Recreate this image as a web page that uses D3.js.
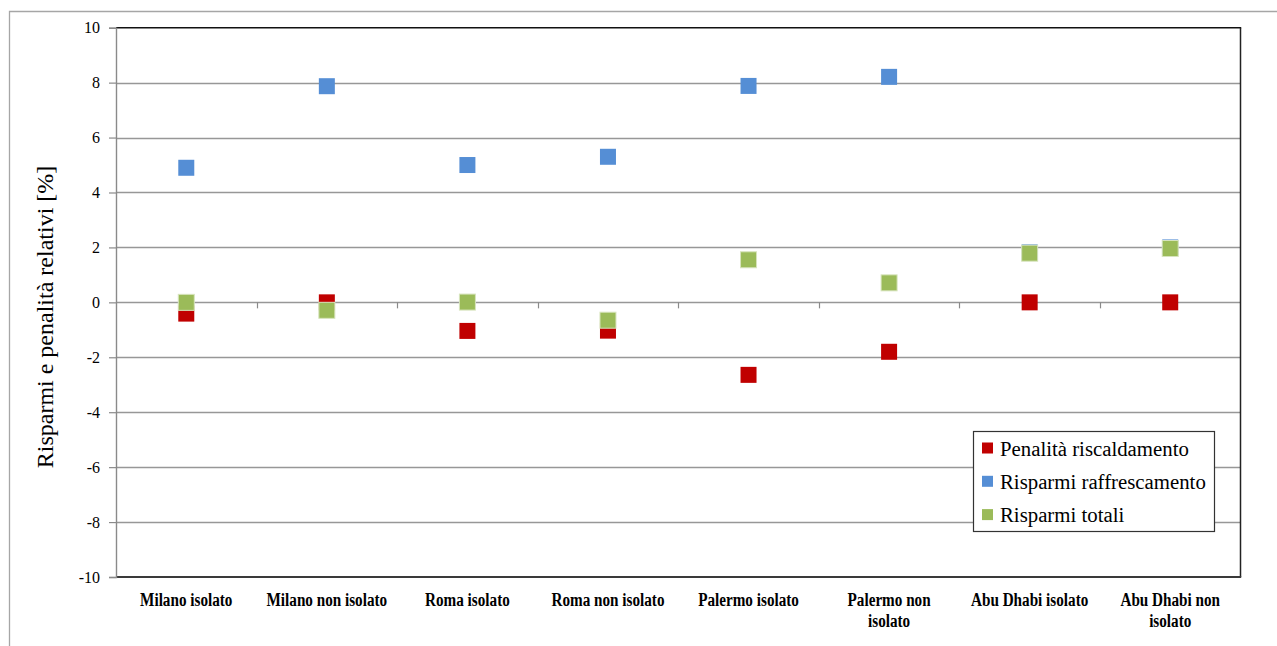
<!DOCTYPE html>
<html>
<head>
<meta charset="utf-8">
<script src="https://cdn.jsdelivr.net/npm/d3@7"></script>
<style>
  html, body { margin: 0; padding: 0; background: #fff; }
  svg { display: block; }
  svg text { font-family: "Liberation Serif", serif !important; }
</style>
</head>
<body>
<svg id="chart" width="1277" height="646"></svg>
<script>
// Categorie (casi studio) e serie in percentuale
const categories = [
  "Milano isolato", "Milano non isolato", "Roma isolato", "Roma non isolato",
  "Palermo isolato", "Palermo non isolato", "Abu Dhabi isolato", "Abu Dhabi non isolato"
];
// Etichette dell'asse x suddivise su righe
const categoryLines = [
  ["Milano isolato"], ["Milano non isolato"], ["Roma isolato"], ["Roma non isolato"],
  ["Palermo isolato"], ["Palermo non", "isolato"], ["Abu Dhabi isolato"], ["Abu Dhabi non", "isolato"]
];
const penalitaRiscaldamento   = [-0.41, 0.00, -1.04, -1.03, -2.64, -1.80, 0.00, 0.00];
const risparmiRaffrescamento  = [4.90, 7.87, 5.00, 5.30, 7.88, 8.21, 1.82, 2.00];
const risparmiTotali          = [0.00, -0.29, 0.01, -0.65, 1.55, 0.71, 1.79, 1.96];
const yTicks = [-10, -8, -6, -4, -2, 0, 2, 4, 6, 8, 10];

const seriesNames = ["Penalità riscaldamento", "Risparmi raffrescamento", "Risparmi totali"];
const seriesValues = [penalitaRiscaldamento, risparmiRaffrescamento, risparmiTotali];
const seriesColors = ["#C00000", "#558ED5", "#9BBB59"];
const seriesStroke = ["none", "none", "#d7e4bd"];

const FONT = "'Liberation Serif', serif";
const svg = d3.select("#chart");
const plot = { left: 116, right: 1240.5, top: 27.7, bottom: 577 };

const x = d3.scaleBand().domain(categories).range([plot.left, plot.right]);
const y = d3.scaleLinear().domain([-10, 10]).range([plot.bottom, plot.top]);

// cornice esterna
svg.append("path")
  .attr("d", `M9.5,${646} V11.5 H1277`)
  .attr("fill", "none").attr("stroke", "#a6a6a6").attr("stroke-width", 1.3);

// griglia orizzontale
svg.append("g")
  .selectAll("line")
  .data(yTicks.filter(t => t !== -10 && t !== 10))
  .join("line")
  .attr("x1", plot.left).attr("x2", plot.right)
  .attr("y1", d => Math.round(y(d)) + 0.5).attr("y2", d => Math.round(y(d)) + 0.5)
  .attr("stroke", "#979797").attr("stroke-width", 1.4);

// tacche sull'asse dello zero tra le categorie
const bounds = d3.range(1, categories.length).map(i => plot.left + i * x.step());
svg.append("g")
  .selectAll("line")
  .data(bounds)
  .join("line")
  .attr("x1", d => Math.round(d) + 0.5).attr("x2", d => Math.round(d) + 0.5)
  .attr("y1", y(0)).attr("y2", y(0) + 6)
  .attr("stroke", "#8a8a8a").attr("stroke-width", 1.2);

// bordo dell'area del grafico
svg.append("line").attr("x1", plot.left).attr("x2", plot.right + 0.7)
  .attr("y1", plot.top).attr("y2", plot.top).attr("stroke", "#111").attr("stroke-width", 1.6);
svg.append("line").attr("x1", plot.right).attr("x2", plot.right)
  .attr("y1", plot.top).attr("y2", plot.bottom).attr("stroke", "#222").attr("stroke-width", 1.5);
svg.append("line").attr("x1", plot.left).attr("x2", plot.right + 0.7)
  .attr("y1", plot.bottom).attr("y2", plot.bottom).attr("stroke", "#3a3a3a").attr("stroke-width", 1.8);

// asse y
const yAxis = svg.append("g")
  .attr("transform", `translate(${plot.left},0)`)
  .call(d3.axisLeft(y).tickValues(yTicks).tickSize(7).tickPadding(9).tickFormat(d => String(d)));
yAxis.attr("font-family", FONT);
yAxis.select(".domain").attr("stroke", "#8a8a8a").attr("stroke-width", 1.4);
yAxis.selectAll(".tick line").attr("stroke", "#8a8a8a").attr("stroke-width", 1.2);
yAxis.selectAll(".tick text")
  .attr("font-family", FONT)
  .attr("font-size", 16).attr("fill", "#000");

// titolo asse y
svg.append("text")
  .attr("transform", `translate(53,317) rotate(-90)`)
  .attr("text-anchor", "middle")
  .attr("font-family", FONT)
  .attr("font-size", 24)
  .attr("fill", "#000")
  .text("Risparmi e penalità relativi [%]");

// etichette asse x (carattere condensato)
const xLab = svg.append("g").attr("font-family", FONT);
categories.forEach((c, i) => {
  const cx = x(c) + x.bandwidth() / 2;
  const t = xLab.append("text")
    .attr("transform", `translate(${cx},606) scale(0.8,1)`)
    .attr("text-anchor", "middle")
    .attr("font-family", FONT)
    .attr("font-size", 19)
    .attr("font-weight", "bold")
    .attr("fill", "#000");
  categoryLines[i].forEach((line, j) => {
    t.append("tspan").attr("x", 0).attr("dy", j === 0 ? 0 : 21).text(line);
  });
});

// marcatori
const size = 16;
seriesValues.forEach((vals, s) => {
  svg.append("g")
    .selectAll("rect")
    .data(vals.map((v, i) => ({ cat: categories[i], v })))
    .join("rect")
    .attr("x", d => x(d.cat) + x.bandwidth() / 2 - size / 2)
    .attr("y", d => y(d.v) - size / 2)
    .attr("width", size).attr("height", size)
    .attr("fill", seriesColors[s])
    .attr("stroke", seriesStroke[s])
    .attr("stroke-width", seriesStroke[s] === "none" ? 0 : 1);
});

// legenda
const leg = svg.append("g").attr("font-family", FONT);
leg.append("rect")
  .attr("x", 973.5).attr("y", 431.5).attr("width", 241).attr("height", 100)
  .attr("fill", "#fff").attr("stroke", "#333").attr("stroke-width", 1.2);
seriesNames.forEach((name, i) => {
  const cy = 448 + i * 33.3;
  leg.append("rect")
    .attr("x", 982).attr("y", cy - 5.5).attr("width", 11).attr("height", 11)
    .attr("fill", seriesColors[i]);
  leg.append("text")
    .attr("x", 1000).attr("y", cy + 7.5)
    .attr("font-family", FONT)
    .attr("font-size", 20.8).attr("fill", "#000")
    .text(name);
});
</script>
</body>
</html>
